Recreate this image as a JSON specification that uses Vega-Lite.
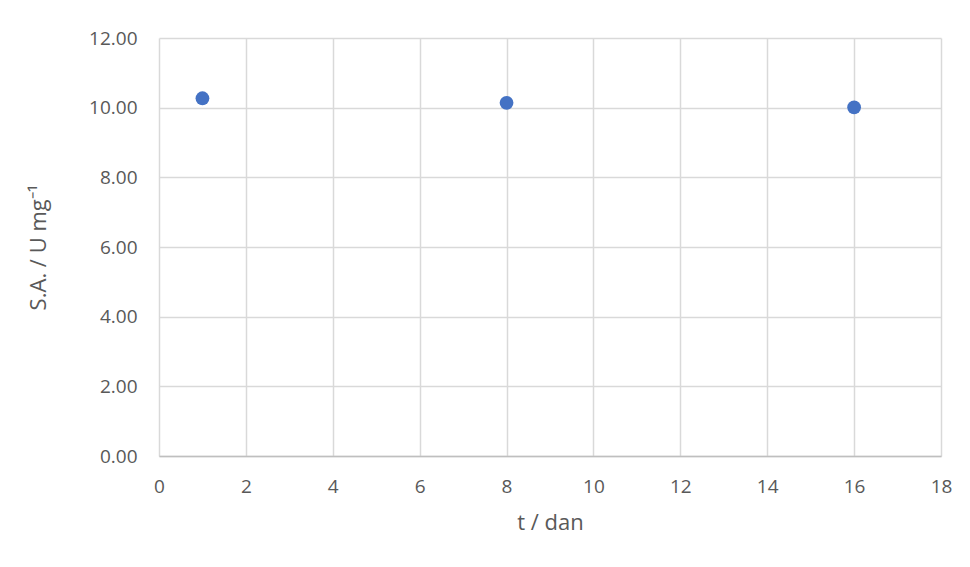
{
  "$schema": "https://vega.github.io/schema/vega-lite/v6.json",
  "autosize": {"type": "none"},
  "padding": {"left": 159, "top": 38, "right": 29, "bottom": 111},
  "width": 782,
  "height": 418,
  "background": "white",
  "config": {
    "view": {"stroke": null},
    "font": "Open Sans"
  },
  "data": {
    "values": [
      {"t": 1, "sa": 10.27},
      {"t": 8, "sa": 10.14},
      {"t": 16, "sa": 10.01}
    ]
  },
  "mark": {"type": "circle", "size": 190, "color": "#4472C4", "opacity": 1},
  "encoding": {
    "x": {
      "field": "t",
      "type": "quantitative",
      "scale": {"domain": [0, 18], "nice": false, "zero": true},
      "axis": {
        "title": "t / dan",
        "values": [0, 2, 4, 6, 8, 10, 12, 14, 16, 18],
        "ticks": false,
        "domainColor": "#BFBFBF",
        "domainWidth": 1.5,
        "gridColor": "#D9D9D9",
        "gridWidth": 1.5,
        "labelFont": "Open Sans",
        "labelFontSize": 19,
        "labelColor": "#595959",
        "labelPadding": 21,
        "labelFlush": false,
        "titleFont": "Open Sans",
        "titleFontSize": 22,
        "titleFontWeight": "normal",
        "titleColor": "#595959",
        "titlePadding": 16
      }
    },
    "y": {
      "field": "sa",
      "type": "quantitative",
      "scale": {"domain": [0, 12], "nice": false},
      "axis": {
        "title": "S.A. / U mg⁻¹",
        "values": [0, 2, 4, 6, 8, 10, 12],
        "format": ".2f",
        "ticks": false,
        "domain": false,
        "gridColor": "#D9D9D9",
        "gridWidth": 1.5,
        "labelFont": "Open Sans",
        "labelFontSize": 19,
        "labelColor": "#595959",
        "labelPadding": 22,
        "titleFont": "Open Sans",
        "titleFontSize": 22,
        "titleFontWeight": "normal",
        "titleColor": "#595959",
        "titlePadding": 38
      }
    }
  }
}
